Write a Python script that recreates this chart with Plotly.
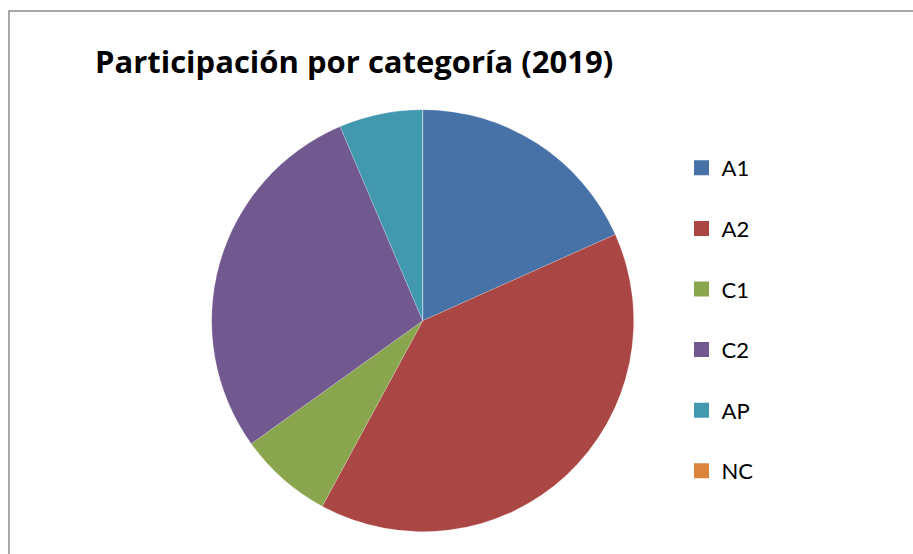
import plotly.graph_objects as go

# slice data (percent of total)
categories = ["A1", "A2", "C1", "C2", "AP", "NC"]
shares = [18.3, 39.6, 7.2, 28.5, 6.4, 0.0]
colors = ["#4672A7", "#AA4744", "#89A54E", "#71588F", "#4198AF", "#DB843D"]

W, H = 913, 554
cx, cy, r = 422.7, 320.7, 211

fig = go.Figure()

fig.add_trace(go.Pie(
    labels=categories,
    values=shares,
    sort=False,
    direction="clockwise",
    rotation=0,
    marker=dict(colors=colors, line=dict(color="rgba(255,255,255,0.4)", width=0.5)),
    textinfo="none",
    hoverinfo="label+percent",
    showlegend=False,
    domain=dict(x=[(cx - r) / W, (cx + r) / W], y=[1 - (cy + r) / H, 1 - (cy - r) / H]),
))

# legend entries as empty square markers so the spacing can be set
for name, col in zip(categories, colors):
    fig.add_trace(go.Scatter(
        x=[None], y=[None], mode="markers", name=name, legendgroup=name,
        marker=dict(symbol="square", size=15, color=col),
    ))

fig.update_layout(
    width=W, height=H,
    margin=dict(l=0, r=0, t=0, b=0),
    paper_bgcolor="white",
    plot_bgcolor="white",
    xaxis=dict(visible=False),
    yaxis=dict(visible=False),
    title=dict(
        text="<b>Participación por categoría (2019)</b>",
        x=95 / W, xanchor="left",
        y=1 - 62 / H, yanchor="middle",
        font=dict(family="Open Sans", size=31, color="black"),
    ),
    legend=dict(
        x=(701.5 - 20) / W, xanchor="left",
        y=1 - 147 / H, yanchor="top",
        font=dict(family="Lato", size=22, color="black"),
        tracegroupgap=29,
        bgcolor="rgba(0,0,0,0)",
    ),
    shapes=[dict(
        type="rect", xref="paper", yref="paper",
        x0=9 / W, x1=1.05, y0=-0.05, y1=1 - 11 / H,
        line=dict(color="#8C8C8C", width=1.5),
    )],
)

# page body has an 8px default margin; remove it so the chart sits at 0,0
fig.write_html("out.html", config={"displayModeBar": False},
               post_script="document.body.style.margin='0px';")
